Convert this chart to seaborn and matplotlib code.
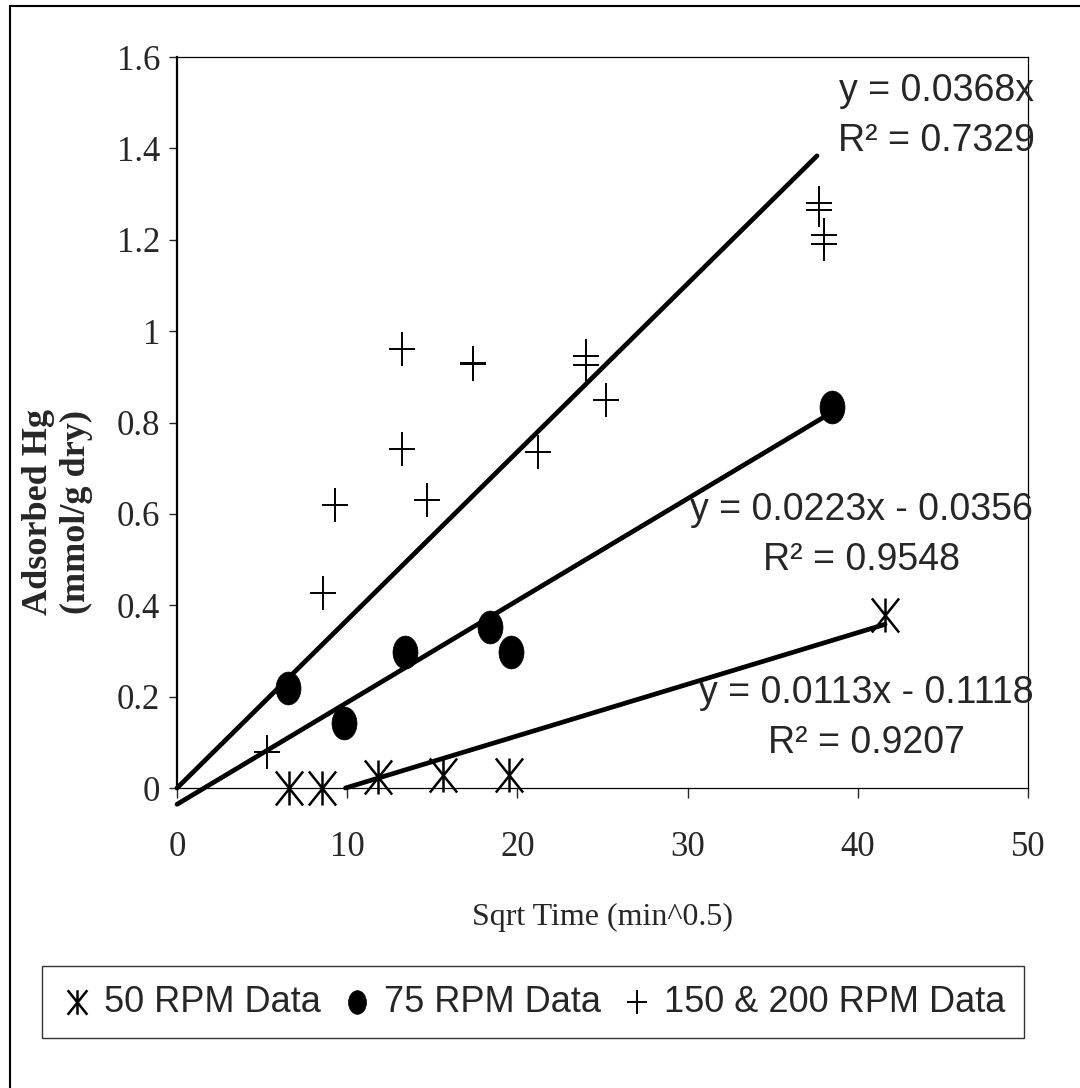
import numpy as np
import pandas as pd
import matplotlib
matplotlib.use('Agg')
import matplotlib.pyplot as plt
import seaborn as sns
from matplotlib.path import Path
from matplotlib.transforms import Affine2D
from matplotlib.patches import Rectangle
from matplotlib.ticker import FuncFormatter

# Daten
x_50 = [6.6, 8.5, 11.8, 15.6, 19.5, 41.6]
y_50 = [0.0, 0.0, 0.025, 0.028, 0.028, 0.379]

x_75 = [6.55, 9.8, 13.4, 18.4, 19.6, 38.5]
y_75 = [0.219, 0.142, 0.298, 0.352, 0.298, 0.834]

x_150 = [5.3, 8.55, 9.27, 13.2, 13.2, 14.7, 17.4, 17.4, 21.2, 24.0, 24.0, 25.2, 37.7, 37.7, 38.0, 38.0]
y_150 = [0.079, 0.427, 0.619, 0.96, 0.742, 0.63, 0.927, 0.93, 0.735, 0.945, 0.925, 0.85, 1.28, 1.265, 1.21, 1.19]

series_labels = ['50 RPM Data', '75 RPM Data', '150 & 200 RPM Data']

# Trendlinien: y = m*x + b
slopes = [0.0113, 0.0223, 0.0368]
intercepts = [-0.1118, -0.0356, 0.0]
x_start = [9.9, 0.0, 0.0]
x_end = [41.6, 38.5, 37.6]
eq_texts = ['y = 0.0113x - 0.1118\nR\u00b2 = 0.9207',
            'y = 0.0223x - 0.0356\nR\u00b2 = 0.9548',
            'y = 0.0368x\nR\u00b2 = 0.7329']
eq_pos = [(40.5, 0.153), (40.2, 0.554), (44.6, 1.47)]

y_ticks = [0, 0.2, 0.4, 0.6, 0.8, 1.0, 1.2, 1.4, 1.6]
x_ticks = [0, 10, 20, 30, 40, 50]

SANS = ['Liberation Sans', 'DejaVu Sans']
SERIF = ['Liberation Serif', 'DejaVu Serif']

sns.set_style('white')
plt.rcParams['font.family'] = SERIF

# Marker (leicht hochkant wie im Original)
M, L = Path.MOVETO, Path.LINETO
plus_marker = Path([(-0.77, 0), (0.77, 0), (0, -1), (0, 1)], [M, L, M, L])
star_marker = Path([(0, -1), (0, 1), (-0.8, -1), (0.8, 1), (-0.8, 1), (0.8, -1)],
                   [M, L, M, L, M, L])
dot_marker = Path.unit_circle().transformed(Affine2D().scale(0.76, 1.0))

fig = plt.figure(figsize=(10.8, 10.88), dpi=100)
ax = fig.add_axes([0.1639, 0.2757, 0.788, 0.6719])

df_50 = pd.DataFrame({'x': x_50, 'y': y_50})
df_75 = pd.DataFrame({'x': x_75, 'y': y_75})
df_150 = pd.DataFrame({'x': x_150, 'y': y_150})

sns.scatterplot(data=df_50, x='x', y='y', ax=ax, marker=star_marker, s=600,
                color='black', edgecolor='black', linewidth=1.8,
                label=series_labels[0], clip_on=False, zorder=3)
sns.scatterplot(data=df_75, x='x', y='y', ax=ax, marker=dot_marker, s=560,
                color='black', edgecolor='black', linewidth=0.5,
                label=series_labels[1], clip_on=False, zorder=3)
sns.scatterplot(data=df_150, x='x', y='y', ax=ax, marker=plus_marker, s=620,
                color='black', edgecolor='black', linewidth=1.4,
                label=series_labels[2], clip_on=False, zorder=3)

# Trendlinien
for m, b, x0, x1 in zip(slopes, intercepts, x_start, x_end):
    xs = np.array([x0, x1])
    sns.lineplot(x=xs, y=m * xs + b, ax=ax, color='black', linewidth=3.4,
                 legend=False, clip_on=False, zorder=4)

for txt, (tx, ty) in zip(eq_texts, eq_pos):
    ax.text(tx, ty, txt, ha='center', va='center', multialignment='center',
            fontsize=27, family=SANS, linespacing=1.5, zorder=5, clip_on=False)

ax.set_xlim(0, 50)
ax.set_ylim(0, 1.6)
ax.set_xticks(x_ticks)
ax.set_yticks(y_ticks)
ax.yaxis.set_major_formatter(FuncFormatter(lambda v, p: '%g' % v))
ax.tick_params(axis='x', direction='out', length=7, width=1, pad=24,
               labelsize=25, bottom=True)
ax.tick_params(axis='y', direction='out', length=6, width=1, pad=6,
               labelsize=25, left=True)

for side, sp in ax.spines.items():
    sp.set_visible(True)
    sp.set_color('black')
    sp.set_linewidth(1.6 if side == 'left' else 0.9)

ax.set_xlabel('Sqrt Time (min^0.5)', fontsize=23)
ax.xaxis.set_label_coords(0.5, -0.1765)
ax.xaxis.label.set_va('center')

ax.set_ylabel('Adsorbed Hg\n(mmol/g dry)', fontsize=26, fontweight='bold',
              linespacing=1.2)
ax.yaxis.set_label_coords(-0.14, 0.378)
ax.yaxis.label.set_va('center')

# Legende unten im Rahmen
handles, labels = ax.get_legend_handles_labels()
ax.get_legend().remove()
leg = fig.legend(handles, labels, loc='center', ncol=3,
                 bbox_to_anchor=(533 / 1080, (1088 - 1002) / 1088),
                 prop={'family': SANS, 'size': 26},
                 markerscale=0.72, handlelength=0.9, handletextpad=0.3,
                 columnspacing=0.55, borderpad=0.5, borderaxespad=0,
                 fancybox=False, frameon=True, edgecolor='black')
leg.get_frame().set_linewidth(1.0)

# äußerer Rahmen
fig.patches.append(Rectangle((10 / 1080, -0.01), 1.0, (1088 - 6) / 1088 + 0.01,
                             transform=fig.transFigure, fill=False,
                             edgecolor='black', linewidth=1.5))

fig.savefig('out.png', dpi=100, facecolor='white')
